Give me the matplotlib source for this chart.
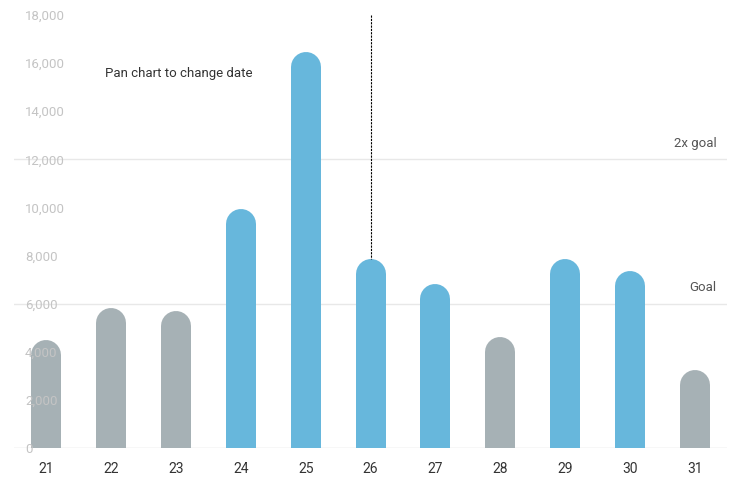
import matplotlib
matplotlib.use("Agg")
import matplotlib.pyplot as plt
from matplotlib.ticker import FuncFormatter

plt.rcParams['font.family'] = ['Roboto', 'DejaVu Sans']

# data
days = ['21', '22', '23', '24', '25', '26', '27', '28', '29', '30', '31']
steps = [4500, 5830, 5690, 9930, 16450, 7850, 6820, 4610, 7850, 7360, 3240]
goal = 6000
selected = 5  # day 26

gray = '#a6b1b5'
blue = '#67b7dc'

fig = plt.figure(figsize=(7.42, 5.0), dpi=100)
ax = fig.add_axes([14/742, 52/500, 713/742, 433/500])
ax.set_xlim(-0.5, len(days) - 0.5)
ax.set_ylim(0, 18000)

# bar radius in data units (15 px)
px = 18000 / 433
r = 15 * px
lw = 30 * 72 / 100

for i, v in enumerate(steps):
    c = blue if v > goal else gray
    ax.plot([i, i], [-r, v - r], color=c, lw=lw, solid_capstyle='round', zorder=2)

# goal lines
ax.axhline(0, color='#d9d9d9', lw=1, zorder=1)
ax.axhline(goal, color='#e8e8e8', lw=1, zorder=1)
ax.axhline(goal * 2, color='#e8e8e8', lw=1, zorder=1)
ax.text(len(days) - 0.66, goal + 400, 'Goal', ha='right', va='bottom', fontsize=9.5, color='#555555')
ax.text(len(days) - 0.66, goal * 2 + 400, '2x goal', ha='right', va='bottom', fontsize=9.5, color='#555555')

# cursor line
ax.plot([selected, selected], [18000, steps[selected]], color='#000000', lw=0.8,
        linestyle=(0, (2, 1)), zorder=3)
ax.text(0.9, 15550, 'Pan chart to change date', fontsize=9.5, color='#333333', va='center')

for s in ax.spines.values():
    s.set_visible(False)

ax.set_xticks(range(len(days)))
ax.set_xticklabels(days, fontsize=10, color='#333333')
ax.tick_params(axis='x', length=0, pad=10)

ax.set_yticks(range(0, 18001, 2000))
ax.yaxis.set_major_formatter(FuncFormatter(lambda v, p: f'{int(v):,}'))
ax.tick_params(axis='y', direction='in', length=0, pad=-8, labelcolor='#c4c4c4', labelsize=9.5)
for lab in ax.get_yticklabels():
    lab.set_horizontalalignment('left')
    lab.set_zorder(5)
ax.set_axisbelow(False)

fig.savefig('out.png', dpi=100)
